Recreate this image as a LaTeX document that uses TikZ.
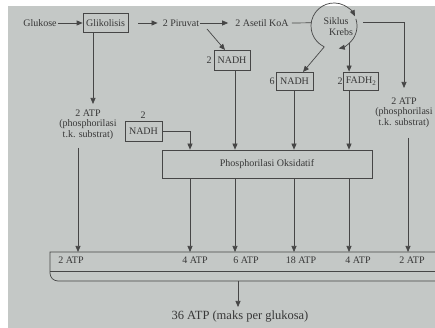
\documentclass[tikz,border=0pt]{standalone}
\usepackage{fontspec}
\setmainfont{Liberation Serif}
\usetikzlibrary{arrows.meta,calc}
\definecolor{paper}{RGB}{196,200,198}
\definecolor{ink}{RGB}{55,55,55}
\definecolor{linec}{RGB}{70,70,70}
\begin{document}
\begin{tikzpicture}[x=1pt,y=1pt,
  lbl/.style={font=\fontsize{10}{10.5}\selectfont, text=ink, inner sep=1pt},
  boxn/.style={draw=linec, line width=0.7pt, font=\fontsize{10}{11}\selectfont, text=ink, inner sep=2pt},
  ln/.style={draw=linec, line width=0.7pt},
  arr/.style={ln, -{Triangle[length=6pt,width=5pt]}},
]
\fill[white] (0,0) rectangle (435,328);
\fill[paper] (8,0) rectangle (435,322);
\useasboundingbox (0,0) rectangle (435,328);

% top row
\node[lbl] (glu) at (40,305) {Glukose};
\node[boxn, minimum width=45pt, minimum height=19pt] (gli) at (105.5,305) {Glikolisis};
\node[lbl] (pir) at (181,305) {2 Piruvat};
\node[lbl] (ase) at (262,305) {2 Asetil KoA};
\coordinate (kc) at (334,302);
\node[lbl] (sik) at (336,307) {Siklus};
\node[lbl] (kre) at (341,296) {Krebs};

% boxes
\node[boxn, minimum width=36pt, minimum height=20pt] (na1) at (232,268) {NADH};
\node[lbl] (na1n) at (209,268) {2};
\node[boxn, minimum width=37pt, minimum height=18pt] (na6) at (294.5,247) {NADH};
\node[lbl] (na6n) at (272,247) {6};
\node[boxn, minimum width=34pt, minimum height=18pt] (fad) at (361,247) {FADH\textsubscript{2}};
\node[lbl] (fadn) at (340,247) {2};
\node[lbl, align=center] (atpL) at (88,203.5) {2 ATP\\(phosphorilasi\\t.k. substrat)};
\node[lbl, align=center] (atpR) at (404,215.5) {2 ATP\\(phosphorilasi\\t.k. substrat)};
\node[boxn, minimum width=37pt, minimum height=20pt] (na2) at (143.5,197) {NADH};
\node[lbl] (na2n) at (143,213) {2};
\node[boxn, minimum width=210pt, minimum height=28pt] (oks) at (267,164) {Phosphorilasi Oksidatif};

% bar
\draw[ln] (440,76) -- (50,76) -- (50,55) arc[start angle=180, end angle=270, radius=8] -- (440,47);
\draw[ln] (50,57) -- (440,57);
\coordinate (barT) at (50,76);
\node[lbl] (b1) at (71,68) {2 ATP};
\node[lbl] (b2) at (195,68) {4 ATP};
\node[lbl] (b3) at (246,68) {6 ATP};
\node[lbl] (b4) at (301,68) {18 ATP};
\node[lbl] (b5) at (358,68) {4 ATP};
\node[lbl] (b6) at (412,68) {2 ATP};
\node[font=\fontsize{12.5}{14}\selectfont, text=ink, inner sep=1pt] (tot) at (240,11) {36 ATP (maks per glukosa)};

% coordinates
\coordinate (cola) at (190,0);
\coordinate (colb) at (235,0);
\coordinate (colc) at (294,0);
\coordinate (cold) at (349,0);
\coordinate (ka) at ($(kc)+(245:23)$);
\coordinate (kf) at ($(kc)+(-49:23)$);
\coordinate (kl) at ($(kc)+(172:23)$);
\coordinate (kr) at (363,306);
\coordinate (tR) at (404,240);
\coordinate (n6t) at (303,256);
\coordinate (pd) at (207,299);
\coordinate (n1t) at (225,278);
\coordinate (tL) at (93,224);
\coordinate (lL) at (78,180);
\coordinate (rb) at (408,190);
\coordinate (barO) at (238,47);
\coordinate (tO) at (238,21);

% connectors top row
\draw[arr] (glu.east) -- (gli.west);
\draw[arr] ($(gli.east)+(10,0)$) -- ($(pir.west)+(-4,0)$);
\draw[arr] (pir.east) -- ($(ase.west)+(-6,0)$);
\draw[ln] ($(ase.east)+(2,0)$) -- (kl);

% Krebs cycle
\draw[arr] (ka) arc[start angle=245, end angle=25, radius=23];
\draw[arr] ($(kc)+(18:23)$) arc[start angle=18, end angle=-78, radius=23];
\draw[arr] (ka) -- (n6t);
\draw[arr] (kf) -- (kf |- fad.north);
\draw[arr] (kr) -- (kr -| tR) -- (tR);

\draw[arr] (pd) -- (n1t);
\draw[arr] ([xshift=-12.5pt]gli.south) -- (tL);

% into oksidatif
\draw[arr] (na2.east) -- (na2.east -| cola) -- (oks.north -| cola);
\draw[arr] (na1.south -| colb) -- (oks.north -| colb);
\draw[arr] (na6.south -| colc) -- (oks.north -| colc);
\draw[arr] (fad.south -| cold) -- (oks.north -| cold);

% into bar
\foreach \nm in {a,b,c,d} \draw[arr] (oks.south -| col\nm) -- (barT -| col\nm);
\draw[arr] (lL) -- (lL |- barT);
\draw[arr] (rb) -- (rb |- barT);
\draw[arr] (barO) -- (tO);
\end{tikzpicture}
\end{document}
